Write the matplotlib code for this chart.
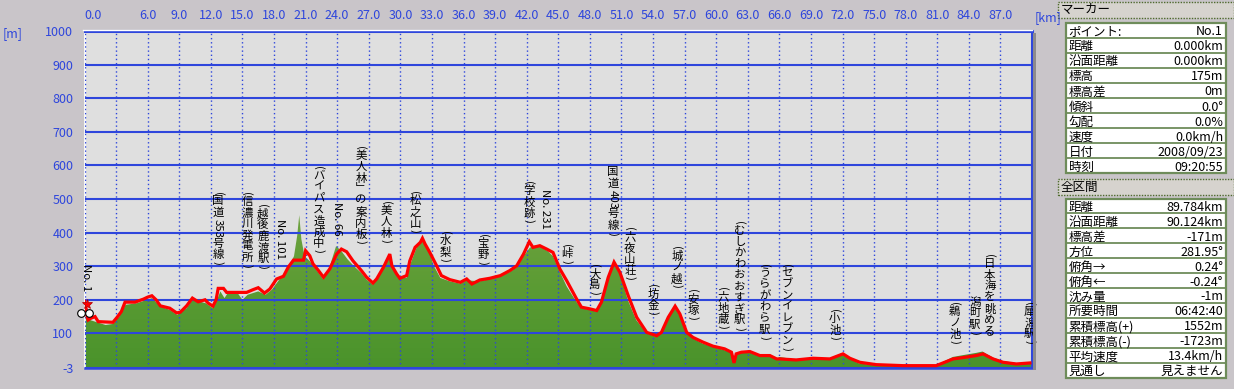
import numpy as np
import matplotlib
matplotlib.use('Agg')
import matplotlib.pyplot as plt
from matplotlib.patches import Rectangle
from matplotlib.transforms import offset_copy
from matplotlib.colors import LinearSegmentedColormap

plt.rcParams['font.family'] = ['Noto Sans CJK JP', 'DejaVu Sans']

# ---------------- data ----------------
track_km = [0.0, 0.15, 0.25, 0.35, 0.6, 1.0, 1.3, 2.7, 3.1, 3.5, 3.85, 4.8, 5.6, 6.0, 6.4,
            6.8, 7.2, 8.1, 8.75, 9.1, 9.7, 10.25, 10.8, 11.45, 11.75, 12.2, 12.5, 12.7, 13.2,
            13.5, 15.4, 16.0, 16.5, 17.1, 17.6, 18.25, 18.9, 19.35, 19.85, 20.8, 21.0, 21.4,
            21.7, 22.2, 22.7, 23.3, 23.95, 24.4, 24.9, 25.5, 26.3, 26.8, 27.4, 27.75, 28.4,
            28.85, 29.0, 29.2, 29.65, 29.95, 30.6, 30.9, 31.4, 31.9, 32.1, 32.35, 32.8, 33.45,
            33.9, 34.7, 35.7, 36.3, 36.8, 37.55, 38.5, 39.5, 40.4, 41.05, 41.7, 42.25, 42.6,
            43.25, 43.9, 44.5, 45.15, 45.8, 46.75, 47.2, 48.0, 48.65, 49.1, 49.75, 50.3, 50.85,
            51.65, 52.45, 53.4, 54.35, 54.8, 55.45, 56.1, 56.55, 57.2, 57.8, 58.75, 59.7, 60.8,
            61.45, 61.7, 61.9, 62.4, 63.2, 64.15, 65.1, 65.75, 66.05, 67.6, 69.2, 70.8, 72.05,
            72.7, 73.65, 75.2, 77.75, 80.9, 82.5, 83.45, 84.7, 85.35, 86.3, 87.25, 88.5, 89.8]
track_m = [195, 175, 150, 140, 145, 150, 135, 133, 148, 165, 193, 193, 202, 208, 212,
           200, 182, 175, 161, 163, 182, 205, 194, 200, 190, 181, 200, 234, 234,
           222, 222, 230, 236, 220, 232, 262, 270, 297, 318, 318, 346, 331,
           307, 288, 267, 292, 336, 351, 343, 316, 287, 267, 250, 262, 297,
           326, 336, 301, 277, 264, 272, 316, 356, 371, 383, 366, 341, 301,
           272, 260, 252, 262, 247, 259, 264, 272, 287, 301, 336, 373, 356,
           361, 351, 341, 292, 257, 202, 178, 173, 168, 193, 267, 312, 282,
           212, 148, 103, 93, 103, 148, 181, 158, 103, 88, 74, 62, 54,
           44, 12, 39, 44, 46, 34, 34, 24, 24, 21, 26, 24, 39,
           26, 14, 7, 4, 4, 24, 28, 34, 39, 24, 14, 9, 12]

terrain_km = [0.0, 0.5, 1.0, 2.0, 2.7, 3.3, 3.9, 5.0, 6.4, 7.2, 8.1, 8.8, 9.7, 10.25, 11.5,
              12.2, 12.6, 12.9, 13.3, 13.6, 14.5, 15.0, 15.5, 16.5, 17.2, 17.8, 18.5, 19.3,
              19.9, 20.2, 20.4, 20.6, 20.9, 21.4, 22.0, 22.7, 23.3, 23.9, 24.4, 25.0, 25.6,
              26.3, 26.8, 27.4, 28.0, 28.9, 29.3, 29.8, 30.6, 31.0, 31.6, 32.1, 32.6, 33.2,
              33.8, 34.7, 35.7, 36.3, 37.5, 38.5, 39.5, 40.4, 41.1, 41.7, 42.3, 42.8, 43.3,
              44.0, 44.5, 45.2, 45.8, 46.7, 47.2, 48.0, 48.6, 49.1, 49.75, 50.3, 50.9, 51.6,
              52.4, 53.4, 54.3, 54.8, 55.4, 56.1, 56.6, 57.2, 57.8, 58.7, 59.7, 60.8, 61.5,
              61.7, 61.9, 62.4, 63.2, 64.1, 65.1, 65.7, 66.0, 67.6, 69.2, 70.8, 72.0, 72.7,
              73.6, 75.2, 77.7, 80.9, 82.5, 83.4, 84.7, 85.3, 86.3, 87.2, 88.5, 89.9]
terrain_m = [150, 140, 135, 125, 128, 150, 185, 190, 205, 180, 170, 155, 175, 200, 190,
             175, 200, 225, 205, 220, 222, 200, 215, 225, 215, 230, 260, 290,
             330, 390, 452, 380, 330, 315, 290, 260, 300, 360, 345, 320, 300,
             280, 260, 245, 280, 330, 295, 265, 265, 310, 360, 378, 355, 300,
             265, 255, 248, 258, 255, 262, 270, 283, 298, 330, 355, 362, 358,
             345, 330, 280, 240, 195, 175, 170, 165, 190, 262, 305, 275, 200,
             140, 100, 90, 100, 145, 175, 150, 100, 85, 70, 60, 50, 42,
             30, 38, 42, 43, 32, 32, 22, 30, 22, 28, 26, 42, 25,
             10, 6, 5, 5, 30, 35, 42, 46, 28, 18, 12, 10]

xtick_km = [0, 3, 6, 9, 12, 15, 18, 21, 24, 27, 30, 33, 36, 39, 42, 45, 48, 51, 54, 57,
            60, 63, 66, 69, 72, 75, 78, 81, 84, 87]
xtick_labels = ['0.0', '', '6.0', '9.0', '12.0', '15.0', '18.0', '21.0', '24.0', '27.0',
                '30.0', '33.0', '36.0', '39.0', '42.0', '45.0', '48.0', '51.0', '54.0',
                '57.0', '60.0', '63.0', '66.0', '69.0', '72.0', '75.0', '78.0', '81.0',
                '84.0', '87.0']
ytick_m = [-3, 100, 200, 300, 400, 500, 600, 700, 800, 900, 1000]
ytick_labels = ['-3', '100', '200', '300', '400', '500', '600', '700', '800', '900', '1000']

# waypoint labels (vertical writing): position in km, top of label in m
label_text = ['No. 1', '(国道353号線)', '(信濃川発電所)', '(越後鹿渡駅)', 'No. 101',
              '(バイパス造成中)', 'No. 66', '(美人林﹂の案内板)', '(美人林)', '(松之山)',
              '(水梨)', '(宝野)', '(学校跡)', 'No. 231', '(峠)', '(大島)', '国道403号線)',
              '(六夜山荘)', '(坊金)', '(城ノ越)', '(安塚)', '(六地蔵)', '(むしかわおおすぎ駅)',
              '(うらがわら駅)', '(セブンイレブン)', '(小池)', '(鵜ノ池)', '(日本海を眺める',
              '潟町駅)', '(犀潟駅)']
label_km = [0.14, 12.68, 15.43, 16.95, 18.57, 22.27, 23.98, 26.26, 28.68, 31.39,
            34.24, 37.85, 42.21, 43.73, 45.82, 48.48, 50.19, 51.8, 53.99, 56.27,
            57.79, 60.63, 62.25, 64.62, 66.71, 71.27, 82.67, 85.99, 84.57, 89.79]
label_top = [307, 521, 521, 485, 440, 598, 491, 658, 494, 524,
             405, 396, 554, 530, 366, 307, 595, 417, 247, 360,
             232, 238, 435, 307, 307, 173, 193, 336, 208, 193]

marker_rows = [('ポイント:', 'No.1'), ('距離', '0.000km'), ('沿面距離', '0.000km'),
               ('標高', '175m'), ('標高差', '0m'), ('傾斜', '0.0°'), ('勾配', '0.0%'),
               ('速度', '0.0km/h'), ('日付', '2008/09/23'), ('時刻', '09:20:55')]
section_rows = [('距離', '89.784km'), ('沿面距離', '90.124km'), ('標高差', '-171m'),
                ('方位', '281.95°'), ('俯角→', '0.24°'), ('俯角←', '-0.24°'),
                ('沈み量', '-1m'), ('所要時間', '06:42:40'), ('累積標高(+)', '1552m'),
                ('累積標高(-)', '-1723m'), ('平均速度', '13.4km/h'), ('見通し', '見えません')]

# ---------------- style ----------------
W, H = 1234, 389
BG = '#C9C5C9'
PLOT_BG = '#DFDFDF'
BLUE = '#2E46DC'
RED = '#FF0000'

fig = plt.figure(figsize=(W / 100, H / 100), dpi=100, facecolor=BG)


def fx(px):
    return px / W


def fy(py):
    return 1 - py / H


ax = fig.add_axes([fx(84.5), fy(368), (1032 - 84.5) / W, (368 - 31) / H])
ax.set_facecolor(PLOT_BG)

# terrain fill with vertical gradient
poly = ax.fill_between(terrain_km, terrain_m, -3, facecolor='none', edgecolor='none', zorder=1)
cmap = LinearSegmentedColormap.from_list('g', ['#4A932B', '#5A9B33', '#6FA33F'])
grad = np.linspace(0, 1, 256).reshape(-1, 1)
im = ax.imshow(grad, extent=[0, 90.0, -3, 460], origin='lower', aspect='auto',
               cmap=cmap, zorder=1, interpolation='bilinear')
im.set_clip_path(poly.get_paths()[0], transform=ax.transData)
ax.set_xlim(0, 90.0)
ax.set_ylim(-3, 1000)

# track line
ax.plot(track_km, track_m, color=RED, lw=2.3, zorder=4, solid_joinstyle='miter')

# grid / ticks
ax.set_axisbelow(False)
ax.set_xticks(xtick_km)
ax.set_xticklabels(xtick_labels)
ax.set_yticks(ytick_m)
ax.set_yticklabels(ytick_labels)
ax.xaxis.tick_top()
ax.tick_params(axis='both', length=0, labelcolor=BLUE, labelsize=9)
ax.tick_params(axis='x', pad=6.5)
ax.tick_params(axis='y', pad=8)
ax.xaxis.grid(True, color=BLUE, lw=1.0, ls=(0, (1, 2)), zorder=3)
ax.yaxis.grid(True, color=BLUE, lw=1.5, ls='-', zorder=3)
lbl0 = ax.get_xticklabels()[0]
lbl0.set_horizontalalignment('left')
lbl0.set_transform(lbl0.get_transform() + offset_copy(ax.transData, fig=fig, x=3, y=0,
                                                       units='dots') - ax.transData)

ax.spines['top'].set_color(BLUE)
ax.spines['top'].set_linewidth(2.2)
ax.spines['bottom'].set_color(BLUE)
ax.spines['bottom'].set_linewidth(1.8)
ax.spines['right'].set_color(BLUE)
ax.spines['right'].set_linewidth(1.5)
ax.spines['left'].set_color('white')
ax.spines['left'].set_linewidth(1.2)

# white rim above plot and shadow at right
fig.lines.append(plt.Line2D([fx(83), fx(1032)], [fy(29.8), fy(29.8)], transform=fig.transFigure,
                            color='white', lw=1.0))
fig.patches.append(Rectangle((fx(1033), fy(370)), 3 / W, (370 - 33) / H,
                             transform=fig.transFigure, facecolor='#8C8A8C', edgecolor='none',
                             zorder=0))

fig.text(fx(3), fy(34), '[m]', color=BLUE, fontsize=9, ha='left', va='center')
fig.text(fx(1035), fy(17.5), '[km]', color=BLUE, fontsize=9, ha='left', va='center')

# start icon (bicycle-like)
for dx in (-2.5, 3.5):
    tr = offset_copy(ax.transData, fig=fig, x=dx, y=-8, units='points')
    ax.plot([track_km[0]], [track_m[0]], marker='o', ms=5.5, mfc='white', mec='black',
            mew=0.8, transform=tr, clip_on=False, zorder=6)
tr = offset_copy(ax.transData, fig=fig, x=1.5, y=-2, units='points')
ax.plot([track_km[0]], [track_m[0]], marker='*', ms=7, mfc=RED, mec='#AA0000',
        mew=0.5, transform=tr, clip_on=False, zorder=7)

# vertical labels
renderer = fig.canvas.get_renderer()
FS = 8.2
PITCH = 8.1  # points per full-width char


def segments(s):
    segs = []
    buf = ''
    for ch in s:
        if ord(ch) < 128:
            buf += ch
        else:
            if buf:
                segs.append((True, buf))
                buf = ''
            segs.append((False, ch))
    if buf:
        segs.append((True, buf))
    return segs


def vlabel(x, ytop, s):
    off = 0.0
    for is_ascii, seg in segments(s):
        tr = offset_copy(ax.transData, fig=fig, x=0, y=-off, units='points')
        if is_ascii:
            t = ax.text(x, ytop, seg, rotation=-90, ha='center', va='top', fontsize=FS,
                        color='black', transform=tr, clip_on=False, zorder=8)
            bb = t.get_window_extent(renderer)
            off += bb.height * 72 / fig.dpi + 0.5
        else:
            ax.text(x, ytop, seg, ha='center', va='top', fontsize=FS, color='black',
                    transform=tr, clip_on=False, zorder=8)
            off += PITCH


for x, yt, s in zip(label_km, label_top, label_text):
    vlabel(x, yt, s)

# ---------------- right panels ----------------
HDR_BG = '#D6D3CE'
TBL_EDGE = '#6E8C5A'


def header(y0, y1, text):
    r = Rectangle((fx(1058), fy(y1)), (1234 - 1058) / W, (y1 - y0) / H, transform=fig.transFigure,
                  facecolor=HDR_BG, edgecolor='#4F6A2E', lw=1.0, ls=(0, (1, 1)))
    fig.patches.append(r)
    fig.text(fx(1061), fy((y0 + y1) / 2), text, fontsize=9, ha='left', va='center',
             color='black')


def table(y0, y1, rows):
    x0, x1 = 1066, 1225.5
    fig.patches.append(Rectangle((fx(x0), fy(y1)), (x1 - x0) / W, (y1 - y0) / H,
                                 transform=fig.transFigure, facecolor='white',
                                 edgecolor=TBL_EDGE, lw=1.6))
    n = len(rows)
    h = (y1 - y0) / n
    for i, (k, v) in enumerate(rows):
        ya = y0 + i * h
        if i > 0:
            fig.lines.append(plt.Line2D([fx(x0), fx(x1)], [fy(ya), fy(ya)],
                                        transform=fig.transFigure, color=TBL_EDGE, lw=1.3))
        yc = ya + h / 2
        fig.text(fx(x0 + 2.5), fy(yc), k, fontsize=9, ha='left', va='center_baseline',
                 color='black')
        fig.text(fx(x1 - 2.5), fy(yc), v, fontsize=9, ha='right', va='center_baseline',
                 color='black')


header(1.5, 17.5, 'マーカー')
table(22.7, 173.3, marker_rows)
header(179.5, 195, '全区間')
table(198.5, 377.5, section_rows)

fig.savefig('out.png', dpi=100, facecolor=BG)
